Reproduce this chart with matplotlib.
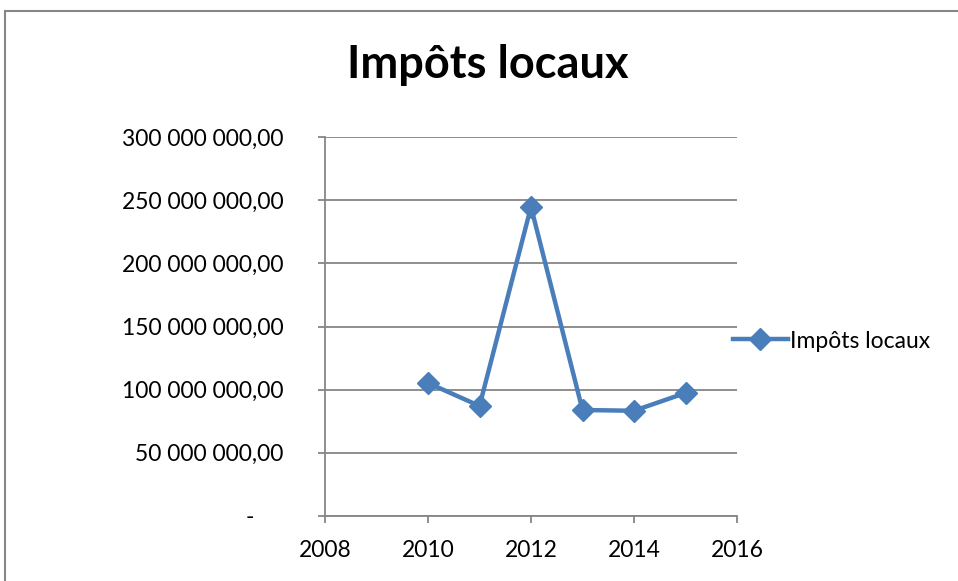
import matplotlib
matplotlib.use('Agg')
import matplotlib.pyplot as plt
from matplotlib.patches import Rectangle

years = [2010, 2011, 2012, 2013, 2014, 2015]
impots = [105300000, 87100000, 244700000, 83900000, 83300000, 97400000]
series_name = 'Impôts locaux'
title = 'Impôts locaux'
y_ticks = [0, 50000000, 100000000, 150000000, 200000000, 250000000, 300000000]
x_ticks = [2008, 2010, 2012, 2014, 2016]

line_color = '#4A7EBB'
grid_color = '#868686'

plt.rcParams['font.family'] = ['Lato', 'DejaVu Sans']


def fmt_label(v):
    if v == 0:
        return '-     '
    s = f'{v:,.2f}'.replace(',', ' ').replace('.', ',')
    return s


def main():
    fig = plt.figure(figsize=(9.58, 5.81), dpi=100)
    fig.patches.append(Rectangle((5 / 958, -0.05), 1.1, 1 - 11 / 581 + 0.05,
                                 transform=fig.transFigure, fill=False,
                                 edgecolor=grid_color, linewidth=1.5))
    ax = fig.add_axes([325 / 958, 65 / 581, 412 / 958, 379 / 581])

    ax.plot(years, impots, color=line_color, linewidth=3.2, marker='D',
            markersize=11, label=series_name)

    ax.set_xlim(2008, 2016)
    ax.set_ylim(0, 300000000)
    ax.set_xticks(x_ticks)
    ax.set_xticklabels([str(x) for x in x_ticks])
    ax.set_yticks(y_ticks)
    ax.set_yticklabels([fmt_label(v) for v in y_ticks])

    ax.grid(axis='y', color=grid_color, linewidth=1.3)
    ax.set_axisbelow(True)
    ax.spines[['right', 'top']].set_visible(False)
    for sp in ('left', 'bottom'):
        ax.spines[sp].set_color(grid_color)
        ax.spines[sp].set_linewidth(1.3)
    ax.tick_params(axis='both', direction='out', length=5, width=1.3,
                   color=grid_color, labelsize=16.5, labelcolor='black')
    ax.tick_params(axis='y', pad=25)
    ax.tick_params(axis='x', pad=12)

    fig.text(488 / 958, 1 - 65 / 581, title, ha='center', va='center',
             fontsize=32.5, fontweight='bold')

    fig.legend(loc='center left', bbox_to_anchor=(712 / 958, 1 - 341 / 581),
               frameon=False, fontsize=16.5, handlelength=2.4, handletextpad=0.1)

    plt.savefig('out.png', dpi=100)


if __name__ == '__main__':
    main()
